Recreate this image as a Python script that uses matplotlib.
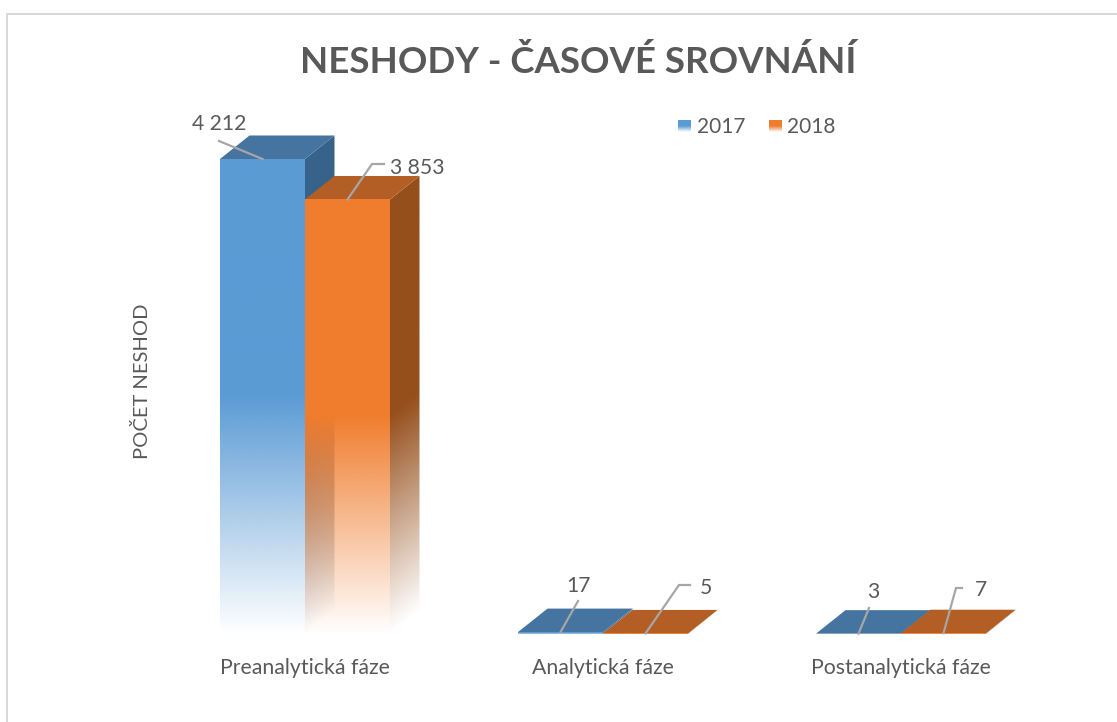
import numpy as np
import matplotlib
matplotlib.use('Agg')
import matplotlib.pyplot as plt
from matplotlib.patches import Polygon, Rectangle
from matplotlib.colors import to_rgb

plt.rcParams['font.family'] = ['Lato', 'DejaVu Sans']

categories = ['Preanalytická fáze', 'Analytická fáze', 'Postanalytická fáze']
years = ['2017', '2018']
values_2017 = [4212, 17, 3]
values_2018 = [3853, 5, 7]
labels_2017 = ['4 212', '17', '3']
labels_2018 = ['3 853', '5', '7']

W, H = 1117, 722
TEXT = '#595959'
LEADER = '#A6A6A6'
# front, top, side colours per series
C_2017 = ('#5B9BD5', '#44749F', '#37638A')
C_2018 = ('#F07D2E', '#B35E25', '#954F1C')

fig = plt.figure(figsize=(W / 100, H / 100), dpi=100, facecolor='white')

# axes box in pixels: baseline at y=634, 4212 lands on y=159
left, right, top, base = 100, 1050, 100, 634
ax = fig.add_axes([left / W, 1 - base / H, (right - left) / W, (base - top) / H])
px_per_x = 298.0
px_per_y = 475.0 / 4212
ax.set_xlim((left - 305) / px_per_x, (right - 305) / px_per_x)
ax.set_ylim(0, (base - top) / px_per_y)
xlim, ylim = ax.get_xlim(), ax.get_ylim()

bar_w = 85 / px_per_x
dx = 29.5 / px_per_x
dy = 23.5 / px_per_y

# overlay in image pixels for title, legend, leaders
pg = fig.add_axes([0, 0, 1, 1], facecolor='none')
pg.set_xlim(0, W)
pg.set_ylim(H, 0)
pg.axis('off')


def fade_image(a, color, x0, x1, y0, y1, poly, shear=0.0, height=None, z=2):
    # vertical fade: solid in upper half, transparent at the bottom
    height = height if height else y1 - y0
    xx, yy = np.meshgrid(np.linspace(0, 1, 80), np.linspace(y0, y1, 400))
    t = (yy - y0 - shear * xx) / height
    rgba = np.ones(xx.shape + (4,))
    rgba[..., :3] = to_rgb(color)
    rgba[..., 3] = np.clip(t / 0.5, 0, 1)
    im = a.imshow(rgba, extent=(x0, x1, y0, y1), origin='lower', aspect='auto',
                  interpolation='bilinear', zorder=z)
    im.set_clip_path(Polygon(poly, closed=True, transform=a.transData))


def draw_bar(x0, v, cols, z):
    x1 = x0 + bar_w
    side = [(x1, 0), (x1 + dx, dy), (x1 + dx, v + dy), (x1, v)]
    fade_image(ax, cols[2], x1, x1 + dx, 0, v + dy, side, shear=dy, height=v, z=z)
    ax.add_patch(Polygon([(x0, v), (x1, v), (x1 + dx, v + dy), (x0 + dx, v + dy)],
                         closed=True, fc=cols[1], ec='none', zorder=z + 1))
    front = [(x0, 0), (x1, 0), (x1, v), (x0, v)]
    fade_image(ax, cols[0], x0, x1, 0, v, front, z=z + 2)


x = np.arange(len(categories))
for i in x:
    draw_bar(i - bar_w, values_2017[i], C_2017, 2)
    draw_bar(i, values_2018[i], C_2018, 5)

ax.set_xlim(xlim)
ax.set_ylim(ylim)
ax.set_xticks(x, categories, fontsize=15.3, color=TEXT)
ax.set_yticks([])
ax.tick_params(axis='x', length=0, pad=17)
for s in ax.spines.values():
    s.set_visible(False)
ax.patch.set_alpha(0)
ax.set_ylabel('POČET NESHOD', fontsize=14.5, color=TEXT)
ax.yaxis.set_label_coords((151 - left) / (right - left), (base - 381) / (base - top))


def to_px(xd, yd):
    return pg.transData.inverted().transform(ax.transData.transform((xd, yd)))


# leader lines: from front top edge of each bar to the label
leaders_2017 = [[(219, 141)], [(578, 601)], [(869, 608)]]
leaders_2018 = [[(372, 164), (384, 164)], [(679, 585), (690, 585)], [(956, 588), (962, 588)]]
label_pos_2017 = [(219, 123.5), (579, 585.5), (873, 591.5)]
label_pos_2018 = [(417, 167.5), (706, 587.5), (981, 590.5)]

for i in x:
    for off, vals, legs, labs, pos in [(-bar_w / 2, values_2017, leaders_2017, labels_2017, label_pos_2017),
                                       (bar_w / 2, values_2018, leaders_2018, labels_2018, label_pos_2018)]:
        sx, sy = to_px(i + off, vals[i])
        pts = [(sx, sy)] + legs[i]
        pg.plot([p[0] for p in pts], [p[1] for p in pts], color=LEADER, lw=1.6, zorder=10,
                solid_joinstyle='miter')
        pg.text(pos[i][0], pos[i][1], labs[i], fontsize=15.2, color=TEXT, ha='center', va='center')

pg.text(578, 62, 'NESHODY - ČASOVÉ SROVNÁNÍ', fontsize=26.4, fontweight='bold', color=TEXT,
        ha='center', va='center')

# legend
for sx, tx, yr, cols in [(678, 721, years[0], C_2017), (769, 811, years[1], C_2018)]:
    im = pg.imshow(np.dstack([np.tile(to_rgb(cols[0]), (40, 1)).reshape(40, 1, 3),
                              np.clip(np.linspace(0, 1, 40) / 0.5, 0, 1).reshape(40, 1, 1)]),
                   extent=(sx, sx + 13, 132, 120), origin='lower', aspect='auto', zorder=5)
    pg.text(tx, 127, yr, fontsize=15.0, color=TEXT, ha='center', va='center')
pg.set_xlim(0, W)
pg.set_ylim(H, 0)

# chart frame
pg.add_patch(Rectangle((6, 13), W, 2, fc='#D9D9D9', ec='none'))
pg.add_patch(Rectangle((6, 13), 2, H, fc='#D9D9D9', ec='none'))

fig.savefig('out.png', dpi=100, facecolor='white')
